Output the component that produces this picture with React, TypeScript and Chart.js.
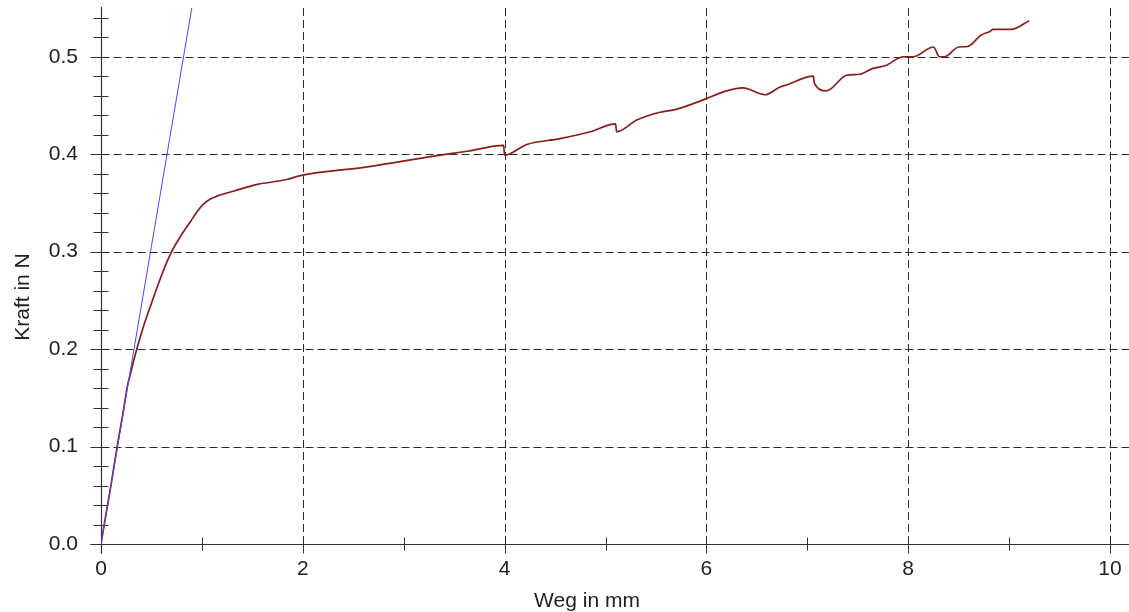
import React, { useEffect, useRef } from "react";
import { Chart, registerables } from "chart.js";

Chart.register(...registerables);

// Measured curve (Weg in mm, Kraft in N)
const wegMm: number[] = [
  0, 0.05, 0.1, 0.16, 0.216, 0.26, 0.3, 0.352, 0.42, 0.49, 0.59, 0.69, 0.787, 0.888, 0.952, 1.018, 1.084, 1.15,
  1.31, 1.55, 1.84, 1.975, 2.64, 3.3, 3.63, 3.99, 4.0, 4.22, 4.55, 4.85, 5.1, 5.11, 5.31, 5.54, 5.7, 6.0, 6.2, 6.36,
  6.58, 6.73, 6.79, 7.06, 7.07, 7.19, 7.39, 7.52, 7.65, 7.78, 7.95, 8.05, 8.25, 8.31, 8.36, 8.5, 8.59, 8.72, 8.81,
  8.84, 9.02, 9.2,
];
const kraftN: number[] = [
  0, 0.031, 0.061, 0.1, 0.133, 0.161, 0.178, 0.199, 0.223, 0.244, 0.273, 0.298, 0.3155, 0.331, 0.341, 0.349,
  0.354, 0.357, 0.362, 0.369, 0.374, 0.378, 0.387, 0.398, 0.403, 0.409, 0.399, 0.41, 0.416, 0.423, 0.431, 0.423,
  0.435, 0.443, 0.446, 0.457, 0.465, 0.468, 0.461, 0.469, 0.471, 0.48, 0.473, 0.465, 0.481, 0.482, 0.488, 0.491,
  0.5, 0.5, 0.51, 0.5, 0.5, 0.51, 0.5105, 0.522, 0.526, 0.528, 0.528, 0.537,
];

// Tangent (elastic line)
const tangentX: number[] = [0, 0.9];
const tangentY: number[] = [0, 0.55];

const xMajorTicks: number[] = [0, 2, 4, 6, 8, 10];
const xMinorTicks: number[] = [1, 3, 5, 7, 9];
const yMajorTicks: number[] = [0, 0.1, 0.2, 0.3, 0.4, 0.5];
const yMinorTicks: number[] = [
  0.02, 0.04, 0.06, 0.08, 0.12, 0.14, 0.16, 0.18, 0.22, 0.24, 0.26, 0.28, 0.32, 0.34, 0.36, 0.38, 0.42, 0.44, 0.46,
  0.48, 0.52, 0.54,
];

const xTitle = "Weg in mm";
const yTitle = "Kraft in N";
const FONT = "'Liberation Sans', Arial, sans-serif";

const decorPlugin = {
  id: "decor",
  beforeDatasetsDraw(chart: any) {
    const { ctx, scales, width } = chart;
    const xs = scales.x;
    const ys = scales.y;
    const x0 = Math.round(xs.getPixelForValue(0)) + 0.5;
    const y0 = Math.round(ys.getPixelForValue(0)) + 0.5;
    const yTop = Math.round(ys.getPixelForValue(0.55));
    ctx.save();
    // dashed grid
    ctx.strokeStyle = "#2a2a2a";
    ctx.lineWidth = 1;
    ctx.setLineDash([8, 4]);
    yMajorTicks.forEach((v) => {
      if (v === 0) return;
      const py = Math.round(ys.getPixelForValue(v)) + 0.5;
      ctx.beginPath();
      ctx.moveTo(x0, py);
      ctx.lineTo(width, py);
      ctx.stroke();
    });
    xMajorTicks.forEach((v) => {
      if (v === 0) return;
      const px = Math.round(xs.getPixelForValue(v)) + 0.5;
      ctx.beginPath();
      ctx.moveTo(px, yTop);
      ctx.lineTo(px, y0);
      ctx.stroke();
    });
    ctx.setLineDash([]);
    // axes
    ctx.strokeStyle = "#333";
    ctx.lineWidth = 1.2;
    ctx.beginPath();
    ctx.moveTo(x0, yTop - 1);
    ctx.lineTo(x0, y0 + 9);
    ctx.moveTo(x0 - 11, y0);
    ctx.lineTo(width, y0);
    ctx.stroke();
    ctx.lineWidth = 1;
    ctx.beginPath();
    yMajorTicks.forEach((v) => {
      const py = Math.round(ys.getPixelForValue(v)) + 0.5;
      ctx.moveTo(x0 - 11, py);
      ctx.lineTo(x0, py);
    });
    yMinorTicks.forEach((v) => {
      const py = Math.round(ys.getPixelForValue(v)) + 0.5;
      ctx.moveTo(x0 - 8, py);
      ctx.lineTo(x0 + 7, py);
    });
    xMajorTicks.forEach((v) => {
      const px = Math.round(xs.getPixelForValue(v)) + 0.5;
      ctx.moveTo(px, y0);
      ctx.lineTo(px, y0 + 9);
    });
    xMinorTicks.forEach((v) => {
      const px = Math.round(xs.getPixelForValue(v)) + 0.5;
      ctx.moveTo(px, y0 - 7);
      ctx.lineTo(px, y0 + 6);
    });
    ctx.stroke();
    // titles
    ctx.fillStyle = "#222";
    ctx.font = `21px ${FONT}`;
    ctx.textAlign = "center";
    ctx.textBaseline = "alphabetic";
    ctx.fillText(xTitle, 587, 607);
    ctx.translate(29, 297);
    ctx.rotate(-Math.PI / 2);
    ctx.fillText(yTitle, 0, 0);
    ctx.restore();
  },
};

const zeroPad = (scale: any) => {
  scale.paddingTop = 0;
  scale.paddingBottom = 0;
  scale.paddingLeft = 0;
  scale.paddingRight = 0;
};

export default function App() {
  const canvasRef = useRef<HTMLCanvasElement | null>(null);

  useEffect(() => {
    if (!canvasRef.current) return;
    const isMajorY = (v: number) => Math.abs(v * 10 - Math.round(v * 10)) < 1e-6;
    const chart = new Chart(canvasRef.current, {
      type: "scatter",
      data: {
        datasets: [
          {
            label: "Tangente",
            data: tangentX.map((x, i) => ({ x, y: tangentY[i] })),
            showLine: true,
            borderColor: "#4646ff",
            borderWidth: 1,
            pointRadius: 0,
          },
          {
            label: "Kraft",
            data: wegMm.map((x, i) => ({ x, y: kraftN[i] })),
            showLine: true,
            borderColor: "#8c1c1c",
            borderWidth: 1.7,
            pointRadius: 0,
            cubicInterpolationMode: "monotone",
          },
        ],
      },
      options: {
        responsive: false,
        animation: false,
        layout: { padding: { left: 0, right: 19, top: 8, bottom: 0 } },
        plugins: { legend: { display: false }, tooltip: { enabled: false } },
        scales: {
          x: {
            type: "linear",
            min: 0,
            max: 10,
            border: { display: false },
            grid: { display: false, drawTicks: false },
            afterBuildTicks: (scale: any) => {
              scale.ticks = xMajorTicks.map((v) => ({ value: v }));
            },
            ticks: {
              padding: 13,
              color: "#222",
              font: { family: FONT, size: 21 },
              maxRotation: 0,
              autoSkip: false,
              callback: (v: any) => String(v),
            },
            afterFit: (scale: any) => {
              scale.height = 68;
              zeroPad(scale);
            },
          },
          y: {
            type: "linear",
            min: 0,
            max: 0.55,
            border: { display: false },
            grid: { display: false, drawTicks: false },
            afterBuildTicks: (scale: any) => {
              scale.ticks = yMajorTicks.map((v) => ({ value: v }));
            },
            ticks: {
              padding: 23,
              color: "#222",
              font: { family: FONT, size: 21 },
              autoSkip: false,
              callback: (v: any) => (isMajorY(Number(v)) ? Number(v).toFixed(1) : ""),
            },
            afterFit: (scale: any) => {
              scale.width = 101;
              zeroPad(scale);
            },
          },
        },
      },
      plugins: [decorPlugin],
    } as any);
    return () => chart.destroy();
  }, []);

  return (
    <div style={{ width: 1129, height: 612 }}>
      <style>{"body{margin:0;}"}</style>
      <canvas ref={canvasRef} width={1129} height={612} style={{ display: "block" }} />
    </div>
  );
}
